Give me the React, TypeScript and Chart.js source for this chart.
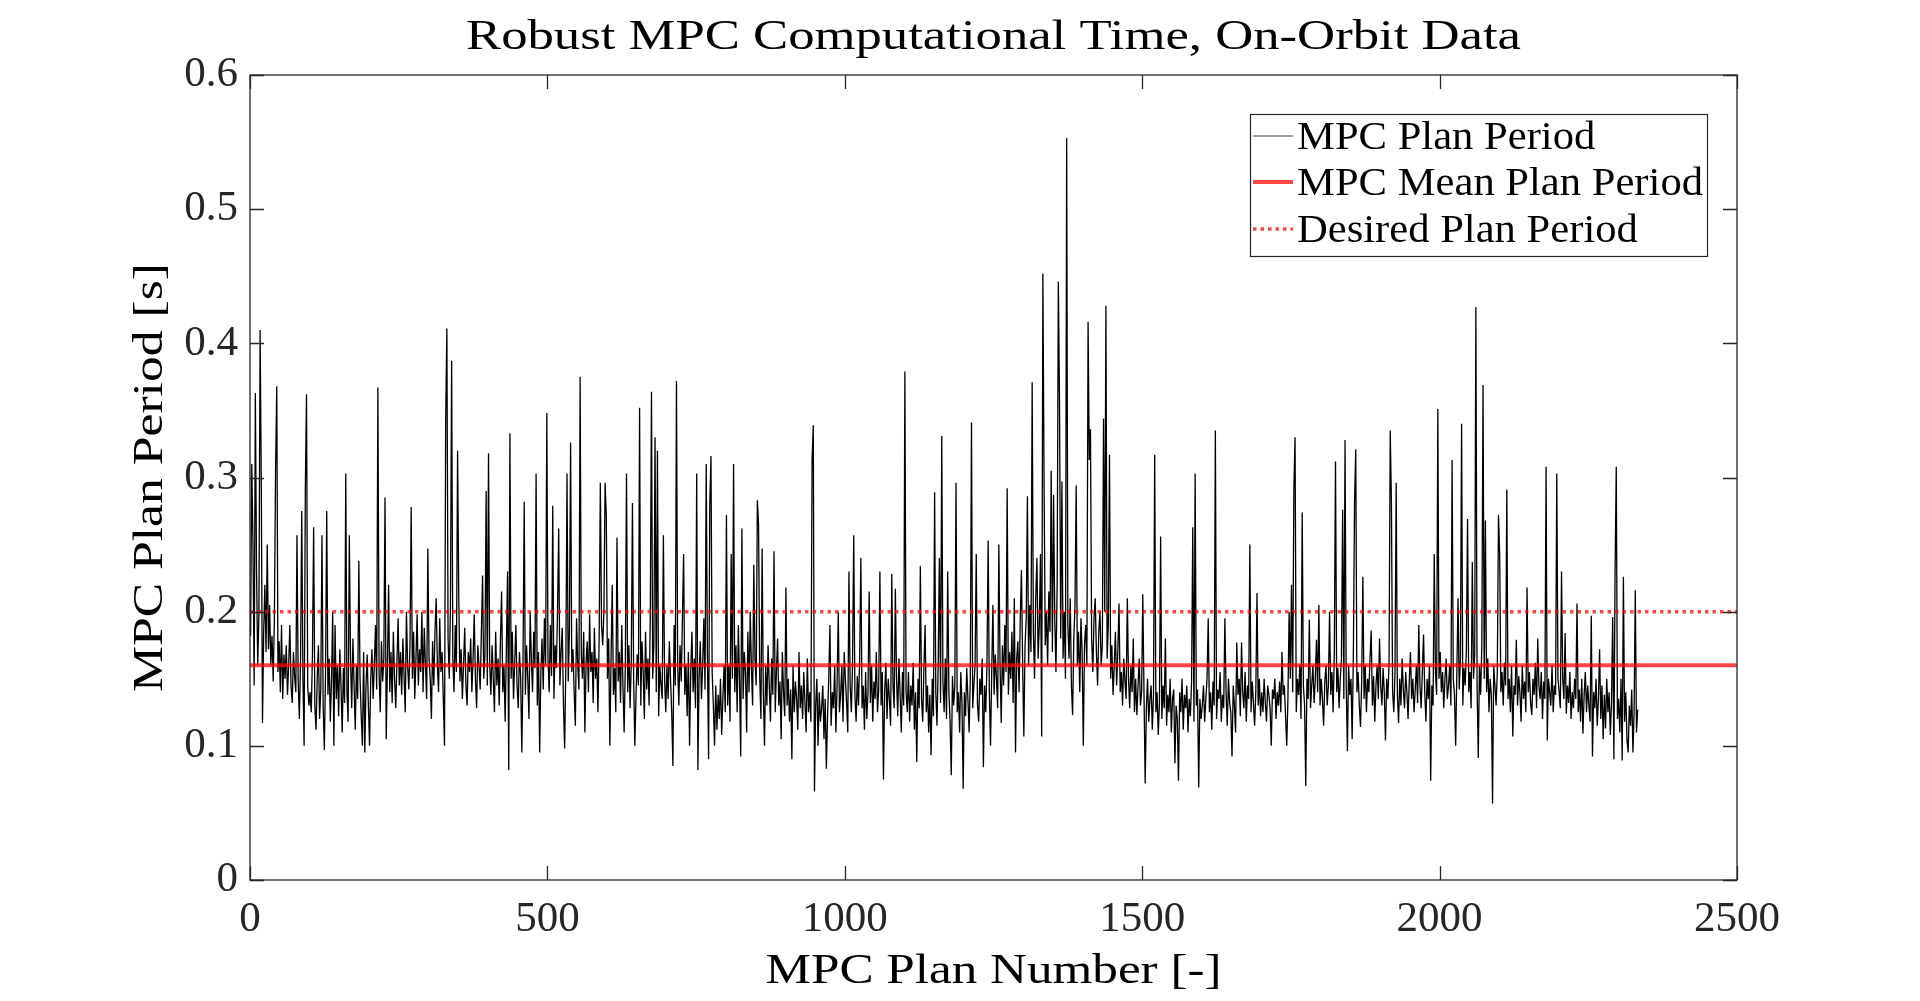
import { useEffect, useRef } from "react";
import { Chart, registerables } from "chart.js";

Chart.register(...registerables);

// plan numbers run 1, 3, 5, ... (every second plan)
const PLAN_STEP = 2;

// MPC plan period, milliseconds
const periodMs = [
  182, 310, 250, 145, 363, 230, 160, 198, 410, 293, 117, 185, 220, 170, 250, 172, 205, 160, 182, 148, 195, 307, 368, 155, 178, 140, 190, 135, 168, 150, 175, 138, 160, 190, 145, 132, 170, 152, 140, 257, 148, 120, 165, 275, 150, 100, 290, 362, 145, 130,
  140, 125, 168, 263, 130, 112, 150, 175, 120, 142, 257, 130, 97, 155, 275, 138, 165, 118, 148, 200, 100, 190, 135, 160, 122, 172, 145, 110, 158, 132, 303, 140, 118, 257, 165, 128, 180, 145, 112, 160, 135, 238, 150, 122, 100, 170, 95, 145, 168, 130,
  100, 150, 172, 135, 160, 190, 142, 367, 155, 125, 178, 148, 165, 285, 105, 158, 220, 140, 170, 132, 185, 150, 128, 162, 195, 145, 170, 138, 180, 152, 125, 200, 160, 142, 175, 278, 150, 185, 135, 165, 198, 145, 172, 155, 200, 140, 188, 160, 135, 247,
  165, 150, 120, 178, 145, 185, 210, 160, 140, 195, 155, 170, 135, 100, 344, 411, 180, 150, 205, 387, 165, 140, 190, 155, 320, 210, 148, 172, 135, 160, 188, 145, 130, 170, 155, 180, 140, 165, 198, 150, 128, 175, 160, 142, 185, 227, 150, 168, 290, 145,
  318, 160, 138, 175, 150, 125, 185, 145, 165, 130, 178, 215, 140, 160, 118, 172, 230, 82, 333, 150, 185, 135, 162, 190, 145, 128, 170, 152, 95, 160, 282, 138, 175, 150, 120, 200, 165, 140, 185, 158, 303, 130, 170, 95, 155, 180, 142, 195, 160, 348,
  165, 140, 190, 152, 279, 135, 175, 158, 200, 262, 145, 170, 188, 130, 98, 160, 303, 148, 185, 326, 155, 172, 140, 115, 195, 160, 142, 375, 168, 150, 185, 110, 162, 178, 140, 198, 155, 170, 132, 188, 150, 165, 125, 180, 296, 190, 175, 200, 296, 272,
  150, 180, 100, 165, 220, 138, 158, 125, 255, 148, 170, 132, 190, 145, 110, 160, 303, 140, 175, 128, 162, 281, 150, 100, 138, 168, 145, 352, 130, 178, 155, 120, 185, 142, 165, 130, 198, 364, 150, 175, 330, 140, 320, 122, 160, 145, 135, 257, 150, 125,
  160, 135, 178, 150, 125, 85, 190, 145, 372, 160, 130, 175, 148, 195, 243, 138, 160, 122, 170, 100, 155, 185, 140, 165, 128, 303, 82, 150, 178, 135, 160, 195, 142, 310, 168, 90, 280, 316, 155, 130, 100, 145, 112, 138, 120, 150, 108, 135, 160, 125,
  272, 130, 160, 118, 243, 150, 310, 140, 175, 125, 190, 148, 92, 262, 135, 170, 155, 110, 185, 140, 200, 158, 130, 235, 165, 145, 283, 265, 150, 120, 247, 140, 100, 160, 130, 175, 145, 118, 165, 138, 245, 125, 155, 180, 130, 148, 105, 170, 140, 122,
  218, 130, 150, 118, 142, 90, 160, 125, 148, 135, 112, 170, 128, 145, 120, 155, 132, 110, 165, 125, 140, 118, 313, 339, 66, 130, 150, 100, 140, 118, 128, 145, 105, 135, 83, 122, 150, 190, 115, 140, 128, 160, 110, 145, 200, 125, 138, 160, 118, 170,
  150, 132, 110, 230, 145, 125, 160, 257, 138, 118, 152, 130, 165, 240, 128, 145, 112, 155, 120, 140, 215, 132, 160, 118, 148, 135, 170, 125, 142, 230, 130, 155, 75, 140, 162, 120, 150, 135, 115, 228, 145, 128, 217, 150, 122, 165, 138, 110, 155, 130,
  379, 140, 125, 155, 118, 145, 130, 162, 112, 140, 88, 150, 128, 234, 135, 118, 158, 190, 125, 145, 110, 138, 93, 150, 122, 289, 140, 115, 160, 240, 132, 331, 148, 125, 165, 120, 230, 140, 118, 78, 152, 130, 145, 296, 125, 140, 110, 155, 132, 68,
  140, 122, 158, 135, 110, 150, 341, 128, 145, 160, 243, 132, 118, 150, 138, 165, 84, 145, 125, 160, 253, 140, 100, 155, 205, 138, 168, 150, 128, 250, 160, 117, 175, 145, 190, 155, 292, 138, 170, 150, 185, 132, 210, 95, 165, 178, 140, 195, 231, 160,
  107, 175, 195, 286, 160, 205, 170, 371, 185, 150, 210, 240, 165, 190, 243, 107, 452, 297, 175, 200, 160, 215, 185, 305, 170, 287, 195, 155, 220, 446, 354, 180, 297, 165, 200, 150, 553, 190, 165, 210, 145, 123, 180, 205, 294, 160, 185, 140, 195, 170,
  100, 175, 190, 160, 416, 313, 336, 180, 155, 195, 210, 170, 145, 185, 200, 160, 175, 344, 200, 428, 165, 190, 317, 150, 175, 138, 160, 185, 145, 170, 206, 140, 155, 130, 165, 148, 135, 210, 150, 128, 160, 140, 180, 125, 150, 123, 145, 165, 130, 140,
  213, 140, 72, 128, 150, 118, 135, 145, 112, 138, 317, 125, 140, 108, 132, 256, 120, 145, 128, 180, 115, 138, 125, 150, 110, 135, 142, 87, 130, 120, 74, 140, 125, 150, 112, 138, 128, 145, 110, 135, 122, 148, 263, 118, 303, 130, 142, 69, 135, 120,
  130, 145, 118, 135, 150, 195, 125, 140, 112, 148, 130, 335, 120, 142, 135, 155, 118, 138, 128, 195, 140, 115, 150, 132, 125, 92, 145, 130, 110, 177, 138, 150, 122, 177, 140, 128, 155, 118, 145, 135, 250, 125, 148, 132, 115, 140, 214, 130, 150, 122,
  140, 125, 150, 132, 118, 145, 138, 128, 100, 142, 135, 150, 120, 140, 130, 148, 125, 170, 138, 145, 122, 100, 135, 200, 150, 220, 140, 292, 330, 125, 150, 138, 160, 120, 274, 145, 130, 70, 150, 135, 194, 128, 145, 160, 132, 150, 179, 140, 205, 130,
  150, 135, 115, 148, 160, 130, 145, 200, 138, 155, 125, 170, 312, 140, 158, 128, 150, 165, 276, 135, 328, 145, 96, 160, 138, 150, 105, 168, 281, 321, 140, 155, 130, 114, 148, 226, 135, 160, 125, 150, 140, 165, 186, 130, 152, 118, 145, 160, 135, 180,
  145, 130, 158, 140, 104, 150, 135, 162, 335, 281, 140, 125, 155, 296, 138, 117, 150, 130, 165, 142, 128, 155, 140, 120, 148, 170, 135, 150, 125, 142, 160, 132, 190, 145, 128, 155, 183, 140, 118, 150, 135, 160, 74, 145, 130, 243, 155, 138, 351, 150,
  170, 140, 155, 128, 150, 165, 135, 145, 160, 130, 313, 150, 138, 100, 155, 210, 142, 165, 340, 130, 158, 145, 172, 269, 140, 155, 128, 237, 150, 168, 427, 145, 91, 160, 138, 175, 369, 150, 268, 140, 165, 125, 150, 138, 57, 160, 145, 130, 155, 272,
  243, 140, 155, 130, 162, 145, 291, 135, 150, 125, 160, 107, 145, 138, 179, 130, 152, 140, 118, 160, 135, 148, 125, 218, 140, 155, 132, 123, 150, 138, 162, 128, 180, 145, 135, 155, 120, 148, 135, 308, 104, 150, 140, 130, 160, 125, 145, 138, 303, 150,
  140, 128, 230, 150, 135, 184, 124, 145, 132, 155, 120, 140, 128, 150, 135, 206, 125, 142, 118, 150, 109, 138, 155, 125, 145, 130, 118, 197, 92, 140, 128, 150, 115, 135, 172, 120, 145, 105, 138, 113, 150, 125, 140, 108, 132, 196, 90, 228, 308, 120,
  135, 110, 150, 89, 226, 118, 140, 105, 95, 130, 115, 142, 95, 125, 216, 110, 127,
];

const meanPeriod = 0.16;
const desiredPeriod = 0.2;
const xRange = [0, 2500];
const yRange = [0, 0.6];
const xTicks = [0, 500, 1000, 1500, 2000, 2500];
const yTicks = [0, 0.1, 0.2, 0.3, 0.4, 0.5, 0.6];
const yTickLabels = ["0", "0.1", "0.2", "0.3", "0.4", "0.5", "0.6"];
const seriesLabels = ["MPC Plan Period", "MPC Mean Plan Period", "Desired Plan Period"];
const titleText = "Robust MPC Computational Time, On-Orbit Data";
const xLabel = "MPC Plan Number [-]";
const yLabel = "MPC Plan Period [s]";

const FONT = "'Liberation Serif', 'Times New Roman', serif";
const AXIS = "#262626";
const RED_SOLID = "rgba(255, 0, 0, 0.72)";

// MATLAB-like box: inward ticks on all four sides, title, labels, legend inside
const matlabFrame = {
  id: "matlabFrame",
  afterDraw(chart: Chart) {
    const { ctx, chartArea: a, scales } = chart;
    const tick = 14;
    ctx.save();

    ctx.strokeStyle = AXIS;
    ctx.lineWidth = 1.3;
    ctx.strokeRect(a.left, a.top, a.right - a.left, a.bottom - a.top);
    ctx.beginPath();
    xTicks.forEach((v) => {
      const px = Math.round(scales.x.getPixelForValue(v)) + 0.5;
      ctx.moveTo(px, a.bottom);
      ctx.lineTo(px, a.bottom - tick);
      ctx.moveTo(px, a.top);
      ctx.lineTo(px, a.top + tick);
    });
    yTicks.forEach((v) => {
      const py = Math.round(scales.y.getPixelForValue(v)) + 0.5;
      ctx.moveTo(a.left, py);
      ctx.lineTo(a.left + tick, py);
      ctx.moveTo(a.right, py);
      ctx.lineTo(a.right - tick, py);
    });
    ctx.stroke();

    // Computer Modern is wider than Liberation Serif: stretch each text to its width
    const cx = (a.left + a.right) / 2;
    const stretchFor = (text: string, size: number, width: number) => {
      ctx.font = `${size}px ${FONT}`;
      return width / ctx.measureText(text).width;
    };
    const drawStretched = (text: string, x: number, y: number, size: number, sx: number, align: CanvasTextAlign, rot = 0) => {
      ctx.save();
      ctx.translate(x, y);
      if (rot) ctx.rotate(rot);
      ctx.scale(sx, 1);
      ctx.font = `${size}px ${FONT}`;
      ctx.fillStyle = "#000";
      ctx.textAlign = align;
      ctx.textBaseline = "alphabetic";
      ctx.fillText(text, 0, 0);
      ctx.restore();
    };

    drawStretched(titleText, cx, 49, 43, stretchFor(titleText, 43, 1055), "center");
    drawStretched(xLabel, cx, 983, 43, stretchFor(xLabel, 43, 456), "center");
    drawStretched(yLabel, 162, (a.top + a.bottom) / 2, 43, stretchFor(yLabel, 43, 429), "center", -Math.PI / 2);

    // legend
    const lx = a.right - 487;
    const ly = a.top + 39;
    ctx.fillStyle = "#fff";
    ctx.fillRect(lx, ly, 457, 142);
    ctx.strokeStyle = AXIS;
    ctx.lineWidth = 1.2;
    ctx.strokeRect(lx + 0.5, ly + 0.5, 457, 142);
    const rowY = [ly + 22, ly + 68, ly + 115];
    const styles = [
      { color: "#808080", width: 1.5, dash: [] as number[] },
      { color: RED_SOLID, width: 4, dash: [] as number[] },
      { color: RED_SOLID, width: 3.5, dash: [3.5, 4] },
    ];
    const legendSx = stretchFor(seriesLabels[1], 39, 406);
    seriesLabels.forEach((label, i) => {
      ctx.beginPath();
      ctx.strokeStyle = styles[i].color;
      ctx.lineWidth = styles[i].width;
      ctx.setLineDash(styles[i].dash);
      ctx.moveTo(lx + 3, rowY[i]);
      ctx.lineTo(lx + 43, rowY[i]);
      ctx.stroke();
      ctx.setLineDash([]);
      drawStretched(label, lx + 47, rowY[i] + 13, 39, legendSx, "left");
    });

    ctx.restore();
  },
};

const App = () => {
  const canvasRef = useRef<HTMLCanvasElement | null>(null);
  const chartRef = useRef<Chart | null>(null);

  useEffect(() => {
    if (!canvasRef.current) return;
    if (chartRef.current) chartRef.current.destroy();

    const points = periodMs.map((ms, i) => ({ x: 1 + PLAN_STEP * i, y: ms / 1000 }));
    const flat = (v: number) => [
      { x: xRange[0], y: v },
      { x: xRange[1], y: v },
    ];

    chartRef.current = new Chart(canvasRef.current, {
      type: "line",
      data: {
        datasets: [
          {
            label: seriesLabels[0],
            data: points,
            borderColor: "#000",
            borderWidth: 1.3,
            borderJoinStyle: "bevel",
            pointRadius: 0,
            tension: 0,
            order: 3,
          },
          {
            label: seriesLabels[1],
            data: flat(meanPeriod),
            borderColor: RED_SOLID,
            borderWidth: 4,
            pointRadius: 0,
            order: 1,
          },
          {
            label: seriesLabels[2],
            data: flat(desiredPeriod),
            borderColor: RED_SOLID,
            borderWidth: 3.5,
            borderDash: [3.5, 4],
            borderCapStyle: "butt",
            pointRadius: 0,
            order: 2,
          },
        ],
      },
      options: {
        animation: false,
        responsive: false,
        devicePixelRatio: 1,
        parsing: false,
        normalized: true,
        layout: { padding: { top: 75, right: 183, left: 0, bottom: 0 } },
        plugins: {
          legend: { display: false },
          title: { display: false },
          tooltip: { enabled: false },
        },
        scales: {
          x: {
            type: "linear",
            min: xRange[0],
            max: xRange[1],
            grid: { display: false, drawTicks: false },
            border: { display: false },
            afterFit: (scale) => {
              scale.height = 121;
            },
            afterBuildTicks: (scale) => {
              scale.ticks = xTicks.map((value) => ({ value }));
            },
            ticks: {
              padding: 14,
              color: AXIS,
              font: { family: FONT, size: 43 },
              maxRotation: 0,
              callback: (value) => String(value),
            },
          },
          y: {
            type: "linear",
            min: yRange[0],
            max: yRange[1],
            grid: { display: false, drawTicks: false },
            border: { display: false },
            afterFit: (scale) => {
              scale.width = 250;
            },
            afterBuildTicks: (scale) => {
              scale.ticks = yTicks.map((value) => ({ value }));
            },
            ticks: {
              padding: 12,
              color: AXIS,
              font: { family: FONT, size: 43 },
              callback: (value) => yTickLabels[yTicks.findIndex((t) => Math.abs(t - Number(value)) < 1e-9)] ?? String(value),
            },
          },
        },
      },
      plugins: [matlabFrame],
    });

    return () => {
      if (chartRef.current) {
        chartRef.current.destroy();
        chartRef.current = null;
      }
    };
  }, []);

  return (
    <div style={{ position: "fixed", left: 0, top: 0, width: 1920, height: 1001, background: "#fff" }}>
      <canvas ref={canvasRef} width={1920} height={1001} style={{ display: "block" }} />
    </div>
  );
};

export default App;
